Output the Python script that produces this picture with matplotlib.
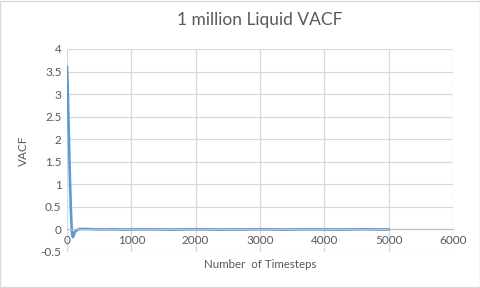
#!/usr/bin/env python3
"""Velocity autocorrelation function of a 1 million particle liquid."""

import matplotlib

matplotlib.use("Agg")
import matplotlib.pyplot as plt  # noqa: E402
from matplotlib.patches import Rectangle  # noqa: E402


timesteps = [0, 10, 20, 30, 40, 50, 60, 70, 80, 90, 100, 110, 120, 140, 160, 180,
             200, 250, 300, 400, 500, 600, 700, 800, 900, 1000, 1200, 1400, 1600,
             1800, 2000, 2200, 2400, 2600, 2800, 3000, 3200, 3400, 3600, 3800,
             4000, 4200, 4400, 4600, 4800, 5000]
vacf = [3.6, 3.2, 2.6, 2.0, 1.4, 0.9, 0.45, 0.1, -0.12, -0.17, -0.15, -0.1, -0.06,
        -0.03, -0.01, 0.0, 0.01, 0.01, 0.01, 0.005, 0.0, 0.0, 0.003, 0.0, -0.003,
        0.0, 0.003, 0.0, -0.003, 0.0, 0.003, 0.0, -0.003, 0.0, 0.0, 0.003, 0.0,
        -0.003, 0.0, 0.003, 0.0, -0.003, 0.0, 0.003, 0.0, 0.0]

TEXT = "#595959"
GRID = "#D9D9D9"

plt.rcParams["font.family"] = ["Lato", "DejaVu Sans"]

fig = plt.figure(figsize=(4.81, 2.88), dpi=100)
fig.patches.append(Rectangle((0.001, 0.002), 0.997, 0.995, transform=fig.transFigure,
                             fill=False, edgecolor=GRID, linewidth=1.0))
ax = fig.add_axes([0.1393, 0.125, 0.8025, 0.7049])

ax.plot(timesteps, vacf, color="#5B9BD5", linewidth=1.9, solid_joinstyle="round")

ax.set_xlim(0, 6000)
ax.set_ylim(-0.5, 4)
ax.set_xticks(range(0, 6001, 1000))
ax.set_yticks([-0.5, 0, 0.5, 1, 1.5, 2, 2.5, 3, 3.5, 4])
ax.set_yticklabels(["-0.5", "0", "0.5", "1", "1.5", "2", "2.5", "3", "3.5", "4"])
ax.grid(True, color=GRID, linewidth=0.9)
ax.set_axisbelow(True)
for side in ["top", "right", "left"]:
    ax.spines[side].set_visible(False)
ax.spines["bottom"].set_position(("data", 0))
ax.spines["bottom"].set_color("#BFBFBF")
ax.tick_params(length=0, labelsize=8.5, labelcolor=TEXT, pad=4)

ax.set_title("1 million Liquid VACF", fontsize=12.5, color=TEXT, pad=17)
ax.set_ylabel("VACF", fontsize=8.5, color=TEXT, labelpad=8)
fig.text(0.5405, 0.083, "Number  of Timesteps", ha="center", va="center",
         fontsize=8.3, color=TEXT)

fig.savefig("out.png", dpi=100)
